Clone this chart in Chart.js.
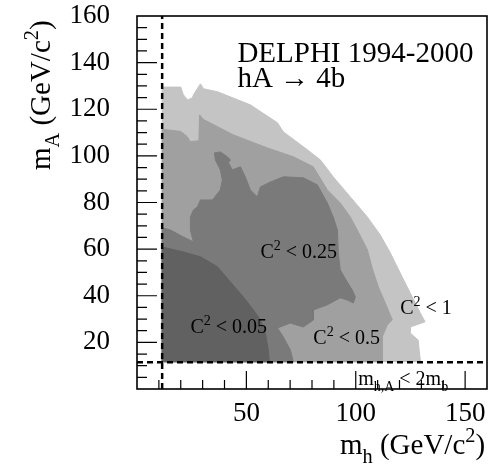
<!DOCTYPE html>
<html>
<head>
<meta charset="utf-8">
<script src="https://cdn.jsdelivr.net/npm/chart.js@4.4.1/dist/chart.umd.min.js"></script>
<style>
  html, body { margin: 0; padding: 0; background: #fff; }
  #wrap { width: 488px; height: 472px; position: relative; }
</style>
</head>
<body>
<div id="wrap"><canvas id="chart"></canvas></div>
<script>
// axes: m_h (x) and m_A (y), GeV/c^2
const xTicks = [50, 100, 150];
const yTicks = [20, 40, 60, 80, 100, 120, 140, 160];
const kinLimit = 11.5; // m_h,A < 2 m_b

// excluded regions, outlines as [m_h, m_A]
const regionC2lt1 = [[11.5,11.5],[11.5,129.5],[20,129.5],[21.2,126.2],[23.1,124],[25.3,124.9],[25.8,126.2],
  [29,130.9],[30.4,128.8],[36.8,127.5],[51.8,121.9],[64.2,114.2],[66.9,110.3],[77.9,102.6],[83.8,98.3],
  [89.7,91],[97.5,82.4],[105.3,73.8],[111.2,66.1],[115.8,58.4],[120.3,49.8],[124.9,41.2],[129.5,32.6],
  [131.7,28.8],[124.9,26.6],[124.9,24],[128.5,21],[129.5,12.4],[130.4,11.5]];

const regionC2lt05 = [[11.5,11.5],[11.5,111.4],[20,110.5],[22.9,108.3],[24.4,106.1],[28.3,106.5],[28.6,117.6],
  [30.4,115.6],[44.1,109],[59.6,103.4],[71.5,99.6],[80.6,95.3],[87,85.4],[92.9,79.8],[97.5,73.8],[100.7,68.2],
  [105.3,59.7],[107.5,51.9],[110.3,43.8],[113.5,36.9],[116.7,29.6],[114.4,27.5],[112.1,22.3],[112.1,11.5]];

const regionC2lt025 = [[11.5,11.5],[11.5,69.1],[15.3,68.2],[21.2,65.2],[25.8,63.1],[24.4,68.2],[24.4,73.8],
  [25.8,76.8],[27.6,78.1],[29,81.1],[34.5,81.1],[38.1,85.4],[39,89.7],[38.1,94],[35.8,98.3],[35.4,101.3],
  [38.1,101.7],[41.3,99.6],[42.7,98.3],[41.8,97],[43.6,94],[47.3,95.3],[49.5,91],[51.8,85.4],[55,82.4],
  [56.4,86.7],[61,88.8],[66.9,91],[76,90.6],[82.4,87.6],[87,79.8],[89.7,73.8],[91.6,68.2],[92,58.4],
  [92.9,51.1],[96.1,45.9],[98.4,42.5],[99.8,39.5],[98.9,36.9],[96.1,38.2],[92.9,39.1],[87,36.1],[80.6,33.9],
  [80.6,29.6],[76,26.6],[70.1,28.3],[64.2,26.2],[66.9,22.3],[70.1,16.7],[71.5,11.5]];

const regionC2lt005 = [[11.5,11.5],[11.5,60.9],[21.2,58.8],[29,56.7],[36.8,52.4],[42.7,45.9],[48.6,39.5],
  [53.2,33.9],[56.4,29.6],[58.7,24],[60,16.7],[60.5,11.5]];

const SERIF = '"Liberation Serif", "Times New Roman", serif';
const toPts = arr => arr.map(([x, y]) => ({x, y}));

function region(points, color) {
  return {
    data: toPts(points), showLine: true, fill: 'shape',
    backgroundColor: color, borderColor: color, borderWidth: 1,
    pointRadius: 0, tension: 0
  };
}

function dashed(points) {
  return {
    data: toPts(points), showLine: true, fill: false,
    borderColor: '#000', borderWidth: 2.5, borderDash: [6, 4],
    pointRadius: 0
  };
}

// text with sub/superscripts: parts are [text, '' | 'sub' | 'sup']
function richText(ctx, x, y, parts, size) {
  let cx = x;
  for (const [t, k] of parts) {
    const s = k ? size * 0.7 : size;
    const dy = k === 'sub' ? size * 0.3 : k === 'sup' ? -size * 0.42 : 0;
    ctx.font = s + 'px ' + SERIF;
    ctx.fillText(t, cx, y + dy);
    cx += ctx.measureText(t).width;
  }
}

const decor = {
  id: 'decor',
  afterDraw(chart) {
    const {ctx, chartArea: a, scales: {x, y}} = chart;
    ctx.save();
    ctx.strokeStyle = '#000';
    ctx.fillStyle = '#000';

    // inward tick marks
    ctx.lineWidth = 1.2;
    ctx.beginPath();
    for (let v = 10; v < 160; v += 10) {
      const px = x.getPixelForValue(v);
      const len = v % 50 === 0 ? 18 : 9;
      ctx.moveTo(px, a.bottom); ctx.lineTo(px, a.bottom - len);
    }
    for (let v = 5; v < 160; v += 5) {
      const py = y.getPixelForValue(v);
      const len = v % 20 === 0 ? 20 : 10;
      ctx.moveTo(a.left, py); ctx.lineTo(a.left + len, py);
    }
    ctx.stroke();

    // frame
    ctx.lineWidth = 1.6;
    ctx.strokeRect(a.left, a.top, a.right - a.left, a.bottom - a.top);

    ctx.textAlign = 'left';
    ctx.textBaseline = 'alphabetic';
    const at = (vx, vy) => [x.getPixelForValue(vx), y.getPixelForValue(vy)];

    let p = at(45.9, 140.3);
    richText(ctx, p[0], p[1], [['DELPHI 1994-2000', '']], 29);
    p = at(45.9, 129.6);
    richText(ctx, p[0], p[1], [['hA \u2192 4b', '']], 29);

    p = at(56.4, 56.2);
    richText(ctx, p[0], p[1], [['C', ''], ['2', 'sup'], [' < 0.25', '']], 20);
    p = at(24.4, 24.0);
    richText(ctx, p[0], p[1], [['C', ''], ['2', 'sup'], [' < 0.05', '']], 20);
    p = at(80.6, 19.3);
    richText(ctx, p[0], p[1], [['C', ''], ['2', 'sup'], [' < 0.5', '']], 20);
    p = at(120.3, 32.2);
    richText(ctx, p[0], p[1], [['C', ''], ['2', 'sup'], [' < 1', '']], 20);
    p = at(101.1, 1.7);
    richText(ctx, p[0], p[1], [['m', ''], ['h,A', 'sub'], [' < 2m', ''], ['b', 'sub']], 20);

    // axis titles
    richText(ctx, a.right - 147, a.bottom + 65,
      [['m', ''], ['h', 'sub'], [' (GeV/c', ''], ['2', 'sup'], [')', '']], 29);
    ctx.translate(a.left - 87, a.top + 154);
    ctx.rotate(-Math.PI / 2);
    richText(ctx, 0, 0,
      [['m', ''], ['A', 'sub'], [' (GeV/c', ''], ['2', 'sup'], [')', '']], 29);
    ctx.restore();
  }
};

const tickFont = {family: SERIF, size: 27};
const noOverflow = s => { s.paddingTop = 0; s.paddingBottom = 0; s.paddingLeft = 0; s.paddingRight = 0; };
const meshTicks = s => { const t = []; for (let v = 0; v <= 160; v += 2.5) t.push({value: v}); s.ticks = t; };

new Chart(document.getElementById('chart'), {
  type: 'scatter',
  data: {
    datasets: [
      dashed([[kinLimit, 0], [kinLimit, 160]]),
      dashed([[0, kinLimit], [160, kinLimit]]),
      region(regionC2lt005, '#616161'),
      region(regionC2lt025, '#7a7a7a'),
      region(regionC2lt05, '#a0a0a0'),
      region(regionC2lt1, '#c4c4c4')
    ]
  },
  options: {
    responsive: true,
    maintainAspectRatio: false,
    animation: false,
    layout: {padding: {top: 16, right: 1, left: 0, bottom: 0}},
    plugins: {legend: {display: false}, tooltip: {enabled: false}},
    scales: {
      x: {
        type: 'linear', min: 0, max: 160,
        grid: {display: false, drawTicks: false},
        border: {display: false},
        afterBuildTicks: s => { s.ticks = xTicks.map(v => ({value: v})); },
        afterFit: s => { s.height = 83; noOverflow(s); },
        ticks: {font: tickFont, color: '#000', padding: 9, maxRotation: 0, autoSkip: false}
      },
      y: {
        type: 'linear', min: 0, max: 160,
        grid: {display: false, drawTicks: false},
        border: {display: false},
        afterBuildTicks: s => { s.ticks = yTicks.map(v => ({value: v})); },
        afterFit: s => { s.width = 137; noOverflow(s); },
        ticks: {font: tickFont, color: '#000', padding: 27, autoSkip: false}
      },
      // faint white bin mesh over the filled regions
      xg: {
        type: 'linear', min: 0, max: 160, position: 'bottom', z: 1,
        afterBuildTicks: meshTicks,
        afterFit: noOverflow,
        ticks: {display: false},
        grid: {color: 'rgba(255,255,255,0.22)', drawTicks: false},
        border: {display: false}
      },
      yg: {
        type: 'linear', min: 0, max: 160, position: 'left', z: 1,
        afterBuildTicks: meshTicks,
        afterFit: noOverflow,
        ticks: {display: false},
        grid: {color: 'rgba(255,255,255,0.22)', drawTicks: false},
        border: {display: false}
      }
    }
  },
  plugins: [decor]
});
</script>
</body>
</html>
